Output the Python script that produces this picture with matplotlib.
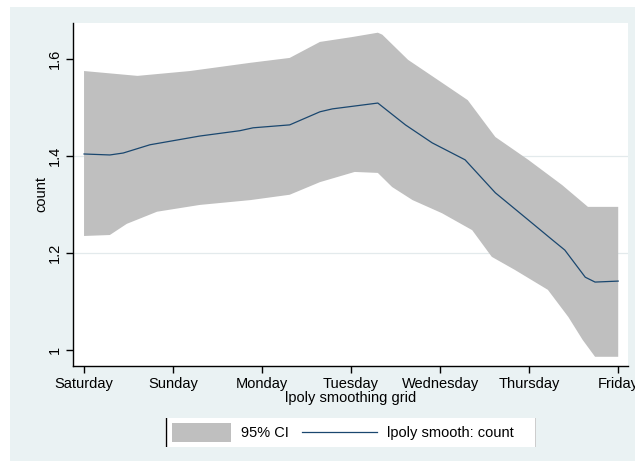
import numpy as np
import matplotlib
matplotlib.use("Agg")
import matplotlib.pyplot as plt
from matplotlib.patches import Rectangle
from matplotlib.lines import Line2D

plt.rcParams['font.family'] = ['Liberation Sans', 'DejaVu Sans']

days = ["Saturday", "Sunday", "Monday", "Tuesday", "Wednesday", "Thursday", "Friday"]

# smoothed line (x in day index, y = count)
line_x = [0.0, 0.29, 0.44, 0.74, 1.30, 1.75, 1.90, 2.31, 2.65, 2.79, 3.30, 3.61, 3.91,
          4.28, 4.62, 4.99, 5.26, 5.40, 5.63, 5.74, 6.0]
line_y = [1.404, 1.402, 1.406, 1.423, 1.441, 1.452, 1.458, 1.464, 1.491, 1.497, 1.509,
          1.464, 1.427, 1.392, 1.324, 1.268, 1.227, 1.206, 1.150, 1.140, 1.142]

# upper CI bound
upper_x = [0.0, 0.60, 1.19, 1.87, 2.31, 2.65, 3.01, 3.30, 3.35, 3.64, 4.02, 4.31, 4.62,
           4.99, 5.37, 5.66, 6.0]
upper_y = [1.575, 1.565, 1.575, 1.592, 1.602, 1.635, 1.645, 1.654, 1.650, 1.598, 1.551,
           1.515, 1.439, 1.392, 1.340, 1.295, 1.295]

# lower CI bound
lower_x = [0.0, 0.29, 0.48, 0.82, 1.30, 1.87, 2.31, 2.65, 3.04, 3.30, 3.46, 3.69, 4.02,
           4.36, 4.58, 4.84, 5.21, 5.44, 5.60, 5.74, 6.0]
lower_y = [1.235, 1.237, 1.260, 1.285, 1.299, 1.309, 1.320, 1.346, 1.367, 1.365, 1.336,
           1.309, 1.282, 1.247, 1.192, 1.165, 1.124, 1.068, 1.021, 0.986, 0.986]

yticks = [1.0, 1.2, 1.4, 1.6]
ytick_labels = ["1", "1.2", "1.4", "1.6"]

BG = "#eaf2f3"
CI = "#bfbfbf"
NAVY = "#1a476f"
W, H = 635, 461
FS = 10.5

fig = plt.figure(figsize=(W / 100, H / 100), dpi=100, facecolor="white")
fig.add_artist(Rectangle((10 / W, 0), 1 - 10 / W, 1 - 7 / H, transform=fig.transFigure,
                         facecolor=BG, edgecolor="none", zorder=-10))

ax = fig.add_axes([73 / W, (H - 366) / H, (628 - 73) / W, (366 - 23) / H])
ax.set_facecolor("white")

ax.fill(np.concatenate([upper_x, lower_x[::-1]]),
        np.concatenate([upper_y, lower_y[::-1]]),
        color=CI, lw=0, zorder=2)
ax.plot(line_x, line_y, color=NAVY, lw=0.9, zorder=3)

for v in [1.2, 1.4]:
    ax.axhline(v, color="#e3eaec", lw=0.9, zorder=1)

ax.set_xlim(-0.124, 6.11)
ax.set_ylim(0.967, 1.674)
ax.set_xticks(range(len(days)))
ax.set_xticklabels(days, fontsize=FS)
ax.set_yticks(yticks)
ax.set_yticklabels(ytick_labels, fontsize=FS, rotation=90, va="center")
ax.tick_params(direction="out", length=5, width=1, color="black", pad=3)
for s in ["top", "right"]:
    ax.spines[s].set_visible(False)
for s in ["left", "bottom"]:
    ax.spines[s].set_linewidth(1.0)
ax.set_xlabel("lpoly smoothing grid", fontsize=FS, labelpad=0)
ax.set_ylabel("count", fontsize=FS, labelpad=0)

# legend
lax = fig.add_axes([165 / W, (H - 447) / H, (536 - 165) / W, 29 / H])
lax.set_xlim(0, 371)
lax.set_ylim(0, 29)
lax.axis("off")
lax.add_patch(Rectangle((0, 0), 371, 29, facecolor="white", edgecolor="none"))
lax.add_line(Line2D([0.5, 0.5], [0, 29], color="black", lw=1))
lax.add_line(Line2D([370.5, 370.5], [0, 29], color="black", lw=1))
lax.add_patch(Rectangle((7, 5), 59, 19, facecolor=CI, edgecolor="none"))
lax.text(76, 14.5, "95% CI", fontsize=FS, va="center", ha="left")
lax.add_line(Line2D([137, 212], [15, 15], color=NAVY, lw=0.9))
lax.text(222, 14.5, "lpoly smooth: count", fontsize=FS, va="center", ha="left")

fig.savefig("out.png", dpi=100, facecolor=fig.get_facecolor())
